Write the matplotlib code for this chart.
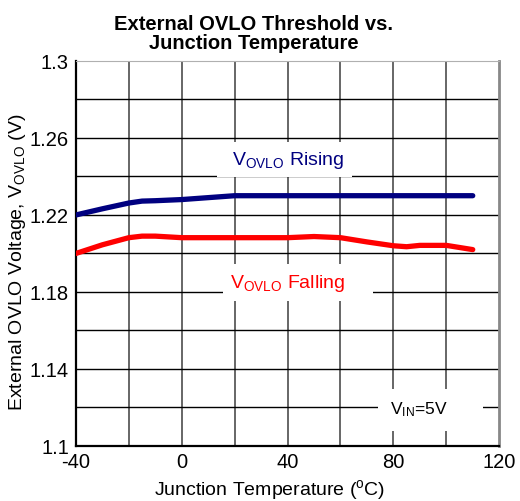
import matplotlib.pyplot as plt
from matplotlib.patches import Rectangle

plt.rcParams['font.family'] = ['Liberation Sans', 'DejaVu Sans']
plt.rcParams['mathtext.fontset'] = 'custom'
plt.rcParams['mathtext.rm'] = 'Liberation Sans'
plt.rcParams['mathtext.it'] = 'Liberation Sans'
plt.rcParams['axes.unicode_minus'] = False

# 数据
temp_rising = [-40, -30, -20, -15, -10, 0, 10, 20, 40, 60, 80, 100, 110]
v_rising = [1.2200, 1.2232, 1.2262, 1.2272, 1.2274, 1.2280, 1.2290, 1.2300, 1.2300, 1.2300, 1.2300, 1.2300, 1.2300]

temp_falling = [-40, -30, -20, -15, -10, 0, 20, 40, 50, 60, 70, 80, 85, 90, 100, 110]
v_falling = [1.2000, 1.2045, 1.2082, 1.2090, 1.2090, 1.2082, 1.2082, 1.2082, 1.2088, 1.2082, 1.2060, 1.2040, 1.2035, 1.2042, 1.2042, 1.2020]

x_ticks = [-40, 0, 40, 80, 120]
y_ticks = [1.1, 1.14, 1.18, 1.22, 1.26, 1.3]
y_tick_labels = ['1.1', '1.14', '1.18', '1.22', '1.26', '1.3']

fig = plt.figure(figsize=(5.2, 5.02), dpi=100)
ax = fig.add_axes([0.146, 0.1096, 0.814, 0.767])

# 网格线
for x in range(-20, 120, 20):
    ax.axvline(x, color='#5a5a5a', lw=1.3, zorder=1)
for k in range(1, 10):
    ax.axhline(1.1 + 0.02 * k, color='black', lw=1.0, zorder=1)

# 文字背景白框
ax.add_patch(Rectangle((13.5, 1.2397), 51, 0.0182, facecolor='white', edgecolor='none', zorder=2))
ax.add_patch(Rectangle((15.6, 1.1753), 56.7, 0.0192, facecolor='white', edgecolor='none', zorder=2))
ax.add_patch(Rectangle((74.2, 1.1078), 39.7, 0.0218, facecolor='white', edgecolor='none', zorder=2))

ax.plot(temp_rising, v_rising, color='#000080', lw=3.8, solid_capstyle='round', zorder=3)
ax.plot(temp_falling, v_falling, color='#ff0000', lw=3.8, solid_capstyle='round', zorder=3)

ax.text(40, 1.2487, r'V$_{\mathrm{OVLO}}$ Rising', color='#000080', fontsize=14,
        ha='center', va='center', zorder=4)
ax.text(40, 1.1847, r'V$_{\mathrm{OVLO}}$ Falling', color='#ff0000', fontsize=14,
        ha='center', va='center', zorder=4)
ax.text(89.5, 1.1195, r'V$_{\mathrm{IN}}$=5V', color='black', fontsize=12.5,
        ha='center', va='center', zorder=4)

ax.set_xlim(-40, 120)
ax.set_ylim(1.1, 1.3)
ax.set_xticks(x_ticks)
ax.set_yticks(y_ticks)
ax.set_yticklabels(y_tick_labels)
ax.tick_params(length=0, labelsize=14.5, pad=5)
ax.tick_params(axis='x', pad=4)

ax.spines['left'].set_color('black')
ax.spines['bottom'].set_color('black')
ax.spines['left'].set_linewidth(1.6)
ax.spines['bottom'].set_linewidth(1.6)
ax.spines['top'].set_color('#b0b0b0')
ax.spines['right'].set_color('#888888')
ax.spines['right'].set_linewidth(2)

fig.text(254 / 520, 1 - 34 / 502, 'External OVLO Threshold vs.\nJunction Temperature',
         ha='center', va='center', fontsize=14.5, fontweight='bold', linespacing=1.05)
fig.text(270 / 520, 1 - 490 / 502, r'Junction Temperature ($^{\mathrm{o}}$C)',
         ha='center', va='center', fontsize=14)
fig.text(18 / 520, 1 - 262 / 502, r'External OVLO Voltage, V$_{\mathrm{OVLO}}$ (V)',
         ha='center', va='center', fontsize=14, rotation=90)

fig.savefig('out.png', dpi=100)
